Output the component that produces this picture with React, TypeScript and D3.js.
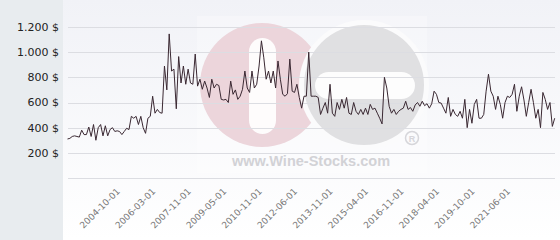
import React from "react";
import * as d3 from "d3";

const prices: number[] = [
  310, 315, 330, 335, 330, 325, 380, 345, 345, 405, 330, 425, 300, 400, 425, 335, 415, 335, 385, 400,
  370, 375, 370, 345, 370, 395, 385, 490, 475, 490, 425, 490, 400, 355, 475, 490, 650, 515, 545, 520,
  515, 890, 700, 1145, 850, 865, 550, 965, 755, 890, 745, 865, 755, 745, 985, 730, 785, 705, 770, 715,
  640, 785, 715, 745, 735, 625, 620, 625, 600, 770, 665, 700, 625, 650, 705, 850, 715, 680, 850, 715,
  745, 890, 1090, 955, 785, 850, 755, 850, 715, 930, 785, 665, 650, 670, 945, 690, 680, 745, 640, 555,
  650, 650, 1000, 650, 650, 650, 640, 505, 555, 600, 515, 745, 515, 490, 600, 545, 625, 555, 640, 515,
  505, 600, 530, 505, 545, 505, 555, 505, 585, 545, 555, 515, 475, 430, 800, 715, 570, 515, 545, 505,
  530, 545, 555, 610, 545, 560, 530, 580, 600, 570, 610, 575, 590, 555, 590, 690, 665, 600, 595, 555,
  515, 640, 490, 545, 505, 490, 530, 475, 625, 400, 545, 435, 585, 625, 475, 475, 505, 690, 825, 690,
  650, 545, 650, 585, 475, 600, 650, 640, 665, 745, 530, 650, 725, 620, 490, 600, 705, 600, 475, 545,
  400, 680, 625, 545, 600, 410, 475,
];

const xTickLabels: string[] = [
  "2004-10-01", "2006-03-01", "2007-11-01", "2009-05-01", "2010-11-01", "2012-06-01",
  "2013-11-01", "2015-04-01", "2016-11-01", "2018-04-01", "2019-10-01", "2021-06-01",
];
const firstTickIndex = 22;
const tickStep = 15;

const yTicks: number[] = [0, 200, 400, 600, 800, 1000, 1200];

const W = 560;
const H = 240;

function fmt(v: number): string {
  const s = String(v);
  return (s.length > 3 ? s.slice(0, s.length - 3) + "." + s.slice(s.length - 3) : s) + " $";
}

export default function App() {
  const x = d3.scaleLinear().domain([0, prices.length - 1]).range([67.5, 554.7]);
  const y = d3.scaleLinear().domain([0, 1200]).range([178, 27]);
  const line = d3
    .line<number>()
    .x((_, i) => x(i))
    .y((d) => y(d));

  const tickIdx = xTickLabels.map((_, k) => firstTickIndex + k * tickStep);

  return (
    <div style={{ position: "fixed", left: 0, top: 0, width: W, height: H }}>
      <svg width={W} height={H} style={{ display: "block" }}>
        <defs>
          <linearGradient id="bg" x1="0" y1="0" x2="0" y2="1">
            <stop offset="0" stopColor="#f1f2f7" />
            <stop offset="1" stopColor="#ffffff" />
          </linearGradient>
          <clipPath id="pinkclip">
            <rect x={0} y={0} width={W} height={H} />
          </clipPath>
        </defs>
        <rect x={0} y={0} width={W} height={H} fill="url(#bg)" />
        <rect x={0} y={0} width={63} height={H} fill="#e8ecef" />

        {/* watermark */}
        <g>
          <rect x={197} y={16} width={230} height={157} fill="#ffffff" opacity={0.3} />
          <circle cx={262} cy={85} r={62} fill="#ecd5db" />
          <rect x={249} y={38} width={27} height={96} rx={13.5} fill="#ffffff" opacity={0.92} />
          <circle cx={364} cy={85} r={65} fill="#fbfbfc" />
          <circle cx={364} cy={85} r={60} fill="#e0e0e2" />
          <rect x={315} y={72} width={100} height={27} rx={13.5} fill="#ffffff" opacity={0.92} />
          <circle cx={412} cy={138} r={6.5} fill="none" stroke="#d6d6da" strokeWidth={1.5} />
          <text x={412} y={141.5} fontFamily="Liberation Sans, Arial, sans-serif" fontSize={9} fontWeight="bold" fill="#d6d6da" textAnchor="middle">R</text>
          <text x={311} y={166} fontFamily="Liberation Sans, Arial, sans-serif" fontSize={14.5} fontWeight="bold" fill="#d2d2d6" textAnchor="middle">www.Wine-Stocks.com</text>
        </g>

        {yTicks.map((t) => (
          <line key={t} x1={68} x2={555} y1={Math.round(y(t)) + 0.5} y2={Math.round(y(t)) + 0.5} stroke="#dcdde2" strokeWidth={1} />
        ))}
        {yTicks.filter((t) => t > 0).map((t) => (
          <text key={t} x={59} y={y(t)} dy="0.35em" textAnchor="end" fontFamily="DejaVu Sans, sans-serif" fontSize={11} fill="#222">
            {fmt(t)}
          </text>
        ))}

        <path d={line(prices) || ""} fill="none" stroke="#3a2832" strokeWidth={1} strokeLinejoin="round" />

        {tickIdx.map((ti, k) => (
          <text
            key={k}
            transform={`translate(${x(ti) + 1},${192}) rotate(-45)`}
            textAnchor="end"
            fontFamily="DejaVu Sans, sans-serif"
            fontSize={9}
            fill="#777"
          >
            {xTickLabels[k]}
          </text>
        ))}
      </svg>
    </div>
  );
}
